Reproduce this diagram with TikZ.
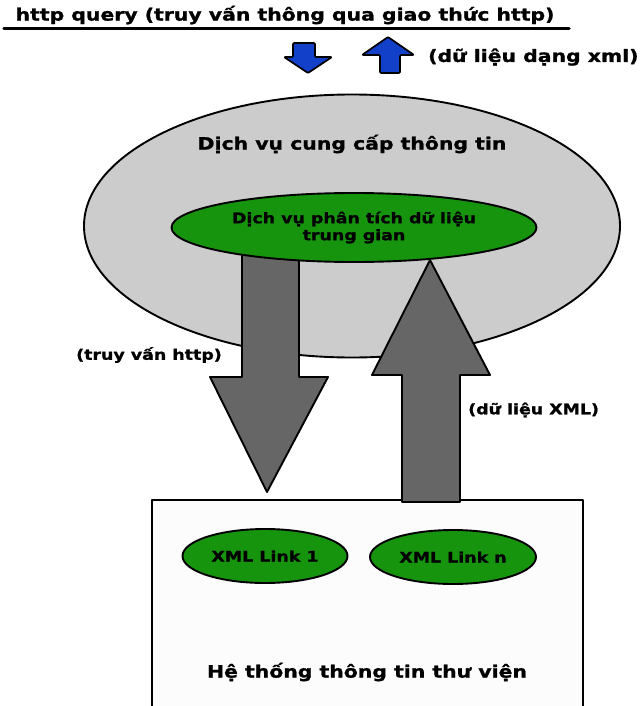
\documentclass[tikz,border=0pt]{standalone}
\usepackage{fontspec}
\setmainfont{DejaVu Sans}[FakeStretch=1.2, BoldFeatures={FakeBold=1.3}]
\usetikzlibrary{shapes.geometric}
\definecolor{svcgrey}{RGB}{204,204,204}
\definecolor{arrowgrey}{RGB}{102,102,102}
\definecolor{leafgreen}{RGB}{22,148,14}
\definecolor{linkblue}{RGB}{18,64,200}
\definecolor{boxwhite}{RGB}{252,252,252}
\begin{document}
\begin{tikzpicture}[x=1pt,y=-1pt,line join=round,
  txt/.style={font=\bfseries\fontsize{17}{19}\selectfont, inner sep=0pt, align=center},
  small/.style={font=\bfseries\fontsize{14.5}{17}\selectfont},
  outline/.style={draw=black, line width=1.9pt},
  svc/.style={ellipse, outline, fill=svcgrey, inner sep=0pt},
  worker/.style={ellipse, outline, fill=leafgreen, inner sep=0pt, txt, small},
  bigarrow/.style={outline, fill=arrowgrey},
  smallarrow/.style={draw=black, line width=1.7pt, fill=linkblue, rounded corners=1pt}]
\useasboundingbox (0,0) rectangle (642,706);
\fill[white] (0,0) rectangle (642,706);

% header with underline
\node[txt] (title) at (285,15) {http query (truy vấn thông qua giao thức http)};
\draw[line width=3.5pt, line cap=round] (4,28.5) -- (569,28.5);

% small request / response arrows
\draw[smallarrow] (293,43) -- (315,43) -- (315,57) -- (332,57) -- (308,73) -- (284,57) -- (293,57) -- cycle;
\draw[smallarrow] (380,73) -- (400,73) -- (400,55) -- (414,55) -- (388,37) -- (362,55) -- (380,55) -- cycle;
\node[txt, anchor=west] (xmlreply) at (428,57) {(dữ liệu dạng xml)};

% information service
\node[svc, minimum width=536pt, minimum height=263pt] (service) at (352,226) {};
\node[txt] (servicelbl) at (352,144) {Dịch vụ cung cấp thông tin};

% library system box (runs past the bottom edge)
\node[draw=black, line width=1.9pt, fill=boxwhite, minimum width=431pt, minimum height=230pt, inner sep=0pt] (library) at (367.5,615) {};
\node[txt] (librarylbl) at (367,672) {Hệ thống thông tin thư viện};

% query and response arrows
\coordinate (qtip) at (267,492);
\draw[bigarrow] (242,240) -- (299,240) -- (299,377) -- (328,377) -- (qtip) -- (210,377) -- (242,377) -- cycle;
\coordinate (rtip) at (430,260);
\draw[bigarrow] (402,502) -- (402,375) -- (372,375) -- (rtip) -- (490,375) -- (460,375) -- (460,502) -- cycle;

% intermediate parser
\node[worker, minimum width=365pt, minimum height=69pt] (parser) at (354,227.5) {Dịch vụ phân tích dữ liệu\\trung gian};

% XML links
\node[worker, minimum width=165pt, minimum height=54pt] (link1) at (265,556) {XML Link 1};
\node[worker, minimum width=166pt, minimum height=54pt] (linkn) at (453,557) {XML Link n};

% arrow labels
\node[txt, small, anchor=west] (querylbl) at (76,355) {(truy vấn http)};
\node[txt, small, anchor=west] (datalbl) at (468,410) {(dữ liệu XML)};
\end{tikzpicture}
\end{document}
